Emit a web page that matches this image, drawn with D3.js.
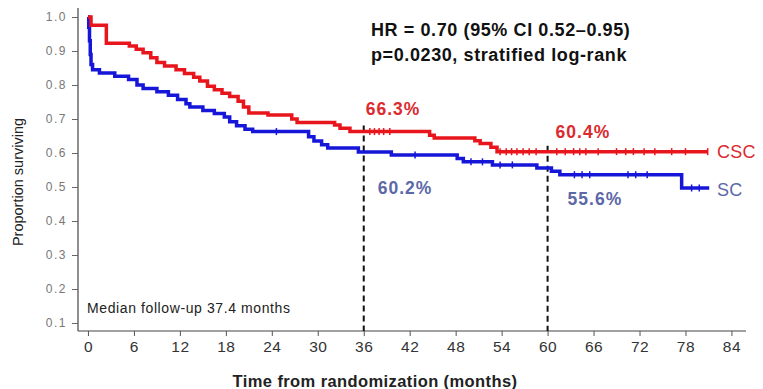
<!DOCTYPE html>
<html>
<head>
<meta charset="utf-8">
<script src="https://cdn.jsdelivr.net/npm/d3@7"></script>
<style>
  body { margin: 0; background: #fff; }
  svg { display: block; font-family: Arial, "Liberation Sans", sans-serif; }
</style>
</head>
<body>
<svg id="chart" width="763" height="389"></svg>
<script>
'use strict';

// step points [month, proportion surviving]
var cscSteps = [
  [0, 1.0], [0.4, 0.976], [2.4, 0.923], [5.4, 0.915], [6.3, 0.905], [7.2, 0.895],
  [8.2, 0.88], [9.0, 0.866], [10.0, 0.856], [11.5, 0.845], [12.6, 0.834], [13.8, 0.823],
  [14.6, 0.812], [15.6, 0.796], [16.5, 0.786], [17.5, 0.776], [18.5, 0.766], [19.6, 0.752],
  [20.3, 0.735], [21.0, 0.718], [23.5, 0.712], [26.6, 0.70], [27.3, 0.69], [32.2, 0.682],
  [32.9, 0.673], [34.2, 0.663], [44.6, 0.652], [45.2, 0.644], [50.5, 0.636], [51.2, 0.628],
  [52.6, 0.617], [53.4, 0.604]
];
var cscEnd = 80.9;
var cscCensor = [36.8, 37.4, 38.0, 38.6, 39.4, 53.8, 54.6, 55.3, 56.0, 56.8, 57.6, 58.5,
  61.2, 62.3, 63.4, 64.2, 65.0, 66.6, 69.0, 70.2, 71.2, 72.6, 74.0, 76.2, 78.0, 80.9];

var scSteps = [
  [0, 1.0], [0.1, 0.97], [0.2, 0.93], [0.3, 0.89], [0.4, 0.86], [0.6, 0.845],
  [1.5, 0.835], [3.5, 0.826], [5.3, 0.816], [6.4, 0.80], [7.2, 0.79], [9.0, 0.78],
  [10.5, 0.77], [11.7, 0.757], [12.8, 0.745], [13.3, 0.735], [15.0, 0.725], [16.5, 0.716],
  [17.8, 0.706], [18.5, 0.692], [19.4, 0.68], [20.5, 0.67], [21.5, 0.663], [28.8, 0.648],
  [29.5, 0.635], [30.5, 0.624], [31.3, 0.615], [35.3, 0.603], [39.6, 0.594], [48.2, 0.584],
  [49.0, 0.574], [52.8, 0.565], [58.6, 0.556], [60.5, 0.546], [61.6, 0.536], [77.5, 0.497]
];
var scEnd = 81.1;
var scCensor = [24.6, 42.7, 50.0, 51.5, 53.8, 55.4, 63.5, 64.5, 65.5, 70.5, 71.5, 73.0, 78.8, 79.8];

var xTicks = [0, 6, 12, 18, 24, 30, 36, 42, 48, 54, 60, 66, 72, 78, 84];
var yTicks = [0.1, 0.2, 0.3, 0.4, 0.5, 0.6, 0.7, 0.8, 0.9, 1.0];
var landmarks = [36, 60];
var cscLandmarkLabels = ['66.3%', '60.4%'];
var scLandmarkLabels = ['60.2%', '55.6%'];
var statsText = ['HR = 0.70 (95% CI 0.52\u20130.95)', 'p=0.0230, stratified log-rank'];

var red = '#e8161c'
  , blue = '#1616d8'
  , redText = '#dc2a2e'
  , blueText = '#5c68a8';

var svg = d3.select('#chart');

var x = d3.scaleLinear().domain([-1.3, 85.9]).range([78, 746]);
var y = d3.scaleLinear().domain([0.1, 1.0]).range([323, 17]);

// axes
var xAxis = svg.append('g')
  .attr('transform', 'translate(0,331)')
  .call(d3.axisBottom(x).tickValues(xTicks).tickSize(5).tickPadding(5).tickFormat(d3.format('d')));
xAxis.select('.domain').attr('stroke', '#444').attr('stroke-width', 1.2).attr('d', 'M78,0H746');
xAxis.selectAll('.tick line').attr('stroke', '#555');
xAxis.selectAll('.tick text').attr('fill', '#333')
  .style('font-size', '15.5px').style('letter-spacing', '0.5px');

var yAxis = svg.append('g')
  .attr('transform', 'translate(78,0)')
  .call(d3.axisLeft(y).tickValues(yTicks).tickSize(6).tickPadding(5).tickFormat(d3.format('.1f')));
yAxis.select('.domain').attr('stroke', '#444').attr('stroke-width', 1.2).attr('d', 'M0,8V331');
yAxis.selectAll('.tick line').attr('stroke', '#666');
yAxis.selectAll('.tick text').attr('fill', '#777')
  .style('font-size', '12px').style('letter-spacing', '1.5px');

// axis titles
svg.append('text')
  .attr('x', 375).attr('y', 387)
  .attr('text-anchor', 'middle')
  .style('font-size', '16.5px').style('font-weight', 'bold').style('letter-spacing', '0.4px')
  .attr('fill', '#222')
  .text('Time from randomization (months)');

svg.append('text')
  .attr('transform', 'translate(23,182) rotate(-90)')
  .attr('text-anchor', 'middle')
  .style('font-size', '14.5px').attr('fill', '#222')
  .text('Proportion surviving');

// landmark dashed lines, from red curve down to axis
landmarks.forEach(function(t){
  svg.append('line')
    .attr('x1', x(t)).attr('x2', x(t))
    .attr('y1', y(survAt(cscSteps, t)) - 6).attr('y2', 331)
    .attr('stroke', '#111').attr('stroke-width', 2).attr('stroke-dasharray', '6,4');
});

// curves
drawCurve(scSteps, scEnd, scCensor, blue);
drawCurve(cscSteps, cscEnd, cscCensor, red);

function stepPath(steps, end){
  var pts = [];
  steps.forEach(function(s, i){
    if (i > 0) pts.push([s[0], steps[i - 1][1]]);
    pts.push(s);
  });
  pts.push([end, steps[steps.length - 1][1]]);
  return pts;
}

function survAt(steps, t){
  var v = steps[0][1];
  steps.forEach(function(s){ if (s[0] <= t) v = s[1]; });
  return v;
}

function drawCurve(steps, end, censor, color){
  var line = d3.line().x(function(d){ return x(d[0]); }).y(function(d){ return y(d[1]); });
  svg.append('path')
    .datum(stepPath(steps, end))
    .attr('d', line)
    .attr('fill', 'none')
    .attr('stroke', color)
    .attr('stroke-width', 3.5);
  svg.append('g').selectAll('line')
    .data(censor)
    .join('line')
      .attr('x1', function(d){ return x(d); })
      .attr('x2', function(d){ return x(d); })
      .attr('y1', function(d){ return y(survAt(steps, d)) - 3.5; })
      .attr('y2', function(d){ return y(survAt(steps, d)) + 3.5; })
      .attr('stroke', color)
      .attr('stroke-width', 1.5);
}

// landmark percentages (offsets from the landmark point on each curve)
var redOffsets = [[2, -17], [8, -14]]
  , blueOffsets = [[14, 42], [20, 37]];
landmarks.forEach(function(t, i){
  svg.append('text')
    .attr('x', x(t) + redOffsets[i][0]).attr('y', y(survAt(cscSteps, t)) + redOffsets[i][1])
    .style('font-size', '17.5px').style('font-weight', 'bold').style('letter-spacing', '1px')
    .attr('fill', redText)
    .text(cscLandmarkLabels[i]);
  svg.append('text')
    .attr('x', x(t) + blueOffsets[i][0]).attr('y', y(survAt(scSteps, t)) + blueOffsets[i][1])
    .style('font-size', '17.5px').style('font-weight', 'bold').style('letter-spacing', '1px')
    .attr('fill', blueText)
    .text(scLandmarkLabels[i]);
});

// group labels
svg.append('text')
  .attr('x', 717).attr('y', y(survAt(cscSteps, cscEnd)) + 6)
  .style('font-size', '18px').style('letter-spacing', '0.3px').attr('fill', redText)
  .text('CSC');
svg.append('text')
  .attr('x', 717).attr('y', y(survAt(scSteps, scEnd)) + 8)
  .style('font-size', '18px').style('letter-spacing', '0.3px').attr('fill', blueText)
  .text('SC');

// stats
svg.selectAll('text.stats')
  .data(statsText)
  .join('text')
    .attr('class', 'stats')
    .attr('x', 371)
    .attr('y', function(d, i){ return 36 + i * 25; })
    .style('font-size', '18px').style('font-weight', 'bold').style('letter-spacing', '0.6px')
    .attr('fill', '#111')
    .text(function(d){ return d; });

svg.append('text')
  .attr('x', 87).attr('y', 313)
  .style('font-size', '14px').style('letter-spacing', '0.6px').attr('fill', '#222')
  .text('Median follow-up 37.4 months');
</script>
</body>
</html>
